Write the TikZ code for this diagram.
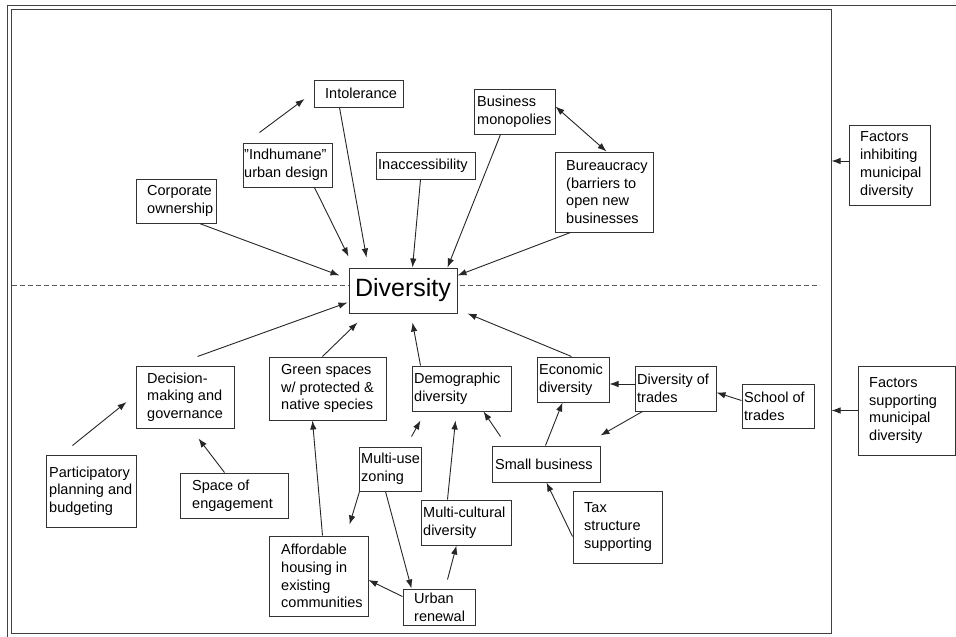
\documentclass[tikz,border=0pt]{standalone}
\usepackage{fontspec}
\setmainfont{Liberation Sans}[Ligatures=ResetAll]
\usetikzlibrary{arrows.meta,calc}
\newcommand{\mybox}[7]{%
  \node[boxst, minimum width={(#4-#2)*1pt}, minimum height={(#5-#3)*1pt}] (#1) at ({(#2+#4)/2},{(#3+#5)/2}) {};
  \node[txt, anchor=west] (#1t) at ({#2+#6},{(#3+#5)/2}) {#7};}
\tikzset{
  boxst/.style={draw=black!80, fill=white, line width=1pt, inner sep=0pt, rectangle},
  txt/.style={inner sep=0pt, align=left, font=\fontsize{14.5}{17.7}\selectfont, text=black},
  arr/.style={draw=black!85, line width=0.9pt, -{Latex[length=9pt,width=6.5pt]}},
  darr/.style={draw=black!85, line width=0.9pt, {Latex[length=9pt,width=6.5pt]}-{Latex[length=9pt,width=6.5pt]}},
  frm/.style={draw=black!75, line width=1pt}
}
\begin{document}
\begin{tikzpicture}[x=1pt,y=-1pt]
\useasboundingbox (0,0) rectangle (956,637);
\fill[white] (0,0) rectangle (956,637);
% outer frame lines
\draw[frm] (7,637) -- (7,5) -- (956,5);
\node[frm, minimum width=820pt, minimum height=624pt, inner sep=0pt] (frame) at (421,321) {};
% dashed divider
\coordinate (dl) at ($(frame.north west)+(1,277)$);
\coordinate (dr) at ($(frame.north west)+(809,277)$);
\draw[draw=black!65, line width=0.9pt, dash pattern=on 5pt off 3pt] (dl) -- (dr);

% upper boxes
\mybox{intol}{314}{80}{403}{107}{11}{Intolerance}
\mybox{inhum}{243}{143}{332}{187}{1}{"Indhumane"\\urban design}
\mybox{inacc}{376}{152}{475}{179}{2}{Inaccessibility}
\mybox{corp}{136}{179}{216}{223}{11}{Corporate\\ownership}
\mybox{busmon}{474}{89}{555}{134}{3}{Business\\monopolies}
\mybox{bureau}{555}{152}{653}{232}{11}{Bureaucracy\\(barriers to\\open new\\businesses}
\mybox{finh}{849}{125}{930}{205}{11}{Factors\\inhibiting\\municipal\\diversity}
% center
\node[boxst, minimum width=108pt, minimum height=45pt] (div) at (403,290.5) {};
\node[inner sep=0pt, font=\fontsize{25}{30}\selectfont] (divt) at (403,290.5) {Diversity};
% lower boxes
\mybox{decis}{136}{366}{234}{428}{11}{Decision-\\making and\\governance}
\mybox{green}{269}{357}{386}{420}{12}{Green spaces\\w/ protected \&\\native species}
\mybox{demog}{412}{366}{511}{411}{2}{Demographic\\diversity}
\mybox{partic}{46}{455}{136}{527}{3}{Participatory\\planning and\\budgeting}
\mybox{space}{180}{473}{288}{518}{12}{Space of\\engagement}
\mybox{multiuse}{359}{447}{421}{491}{2}{Multi-use\\zoning}
\mybox{multicult}{421}{500}{511}{545}{2}{Multi-cultural\\diversity}
\mybox{afford}{269}{536}{368}{616}{12}{Affordable\\housing in\\existing\\communities}
\mybox{urban}{403}{589}{475}{625}{11}{Urban\\renewal}
\mybox{econ}{537}{357}{609}{402}{2}{Economic\\diversity}
\mybox{divtr}{635}{366}{716}{411}{2}{Diversity of\\trades}
\mybox{school}{742}{384}{814}{428}{2}{School of\\trades}
\mybox{small}{492}{446}{600}{482}{3}{Small business}
\mybox{tax}{573}{491}{662}{563}{11}{Tax\\structure\\supporting}
\mybox{fsup}{858}{366}{955}{455}{11}{Factors\\supporting\\municipal\\diversity}

% upper arrows
\draw[arr] ($(inhum.north west)+(17,-10)$) -- ($(intol.west)+(-9,5.5)$);
\draw[arr] ($(intol.south west)+(26,0)$) -- ($(div.north west)+(18,-10)$);
\draw[arr] ($(inhum.south west)+(72,0)$) -- ($(div.north west)+(0,-11)$);
\draw[arr] ($(corp.south west)+(64,0)$) -- ($(div.north west)+(-9,8)$);
\draw[arr] ($(inacc.south west)+(45,0)$) -- ($(div.north west)+(64,0)$);
\draw[arr] ($(busmon.south west)+(27,0)$) -- ($(div.north west)+(99,0)$);
\draw[arr] ($(bureau.south west)+(16,0)$) -- ($(div.north east)+(0,8)$);
\draw[darr] ($(busmon.north east)+(0,18)$) -- ($(bureau.north west)+(52,0)$);
\draw[arr] ([yshift=4pt]finh.west) -- ([yshift=4pt]finh.west -| frame.east);

% lower arrows
\draw[arr] ($(decis.north west)+(62,-9)$) -- ($(div.north west)+(-1,35)$);
\draw[arr] ($(green.north west)+(54,0)$) -- ($(div.south west)+(9,9)$);
\draw[arr] ($(demog.north west)+(9,0)$) -- ($(div.south west)+(64,9)$);
\draw[arr] ($(econ.north west)+(35,0)$) -- ($(div.south east)+(10,0)$);
\draw[arr] ($(partic.north west)+(27,-9)$) -- ($(decis.west)+(-9,5)$);
\draw[arr] ($(space.north west)+(45,0)$) -- ($(decis.south west)+(63,10)$);
\draw[arr] ($(afford.north west)+(54,0)$) -- ($(green.south west)+(44,0)$);
\draw[arr] ($(multiuse.north west)+(53,-10)$) -- ($(demog.south west)+(9,9)$);
\draw[arr] ($(multiuse.south west)+(1,0)$) -- ($(afford.north west)+(81,-11)$);
\draw[arr] ($(multiuse.south west)+(27,0)$) -- ($(urban.north west)+(9,0)$);
\draw[arr] ($(urban.north west)+(0,8)$) -- ($(afford.east)+(0,4)$);
\draw[arr] ($(urban.north west)+(45,-9)$) -- ($(multicult.south west)+(36,0)$);
\draw[arr] ($(multicult.north west)+(27,0)$) -- ($(demog.south west)+(44,9)$);
\draw[arr] ($(small.north west)+(9,-9)$) -- ($(demog.south west)+(72,0)$);
\draw[arr] ($(small.north west)+(54,0)$) -- ($(econ.south west)+(26,0)$);
\draw[arr] ($(divtr.west)+(0,-4.5)$) -- ($(econ.east)+(0,4.5)$);
\draw[arr] ($(school.north west)+(0,17)$) -- ($(divtr.north east)+(0,27)$);
\draw[arr] ($(divtr.south west)+(8,0)$) -- ($(small.north east)+(0,-10)$);
\draw[arr] ($(tax.north west)+(0,46)$) -- ($(small.south west)+(55,0)$);
\draw[arr] (fsup.west) -- (fsup.west -| frame.east);
\end{tikzpicture}
\end{document}
